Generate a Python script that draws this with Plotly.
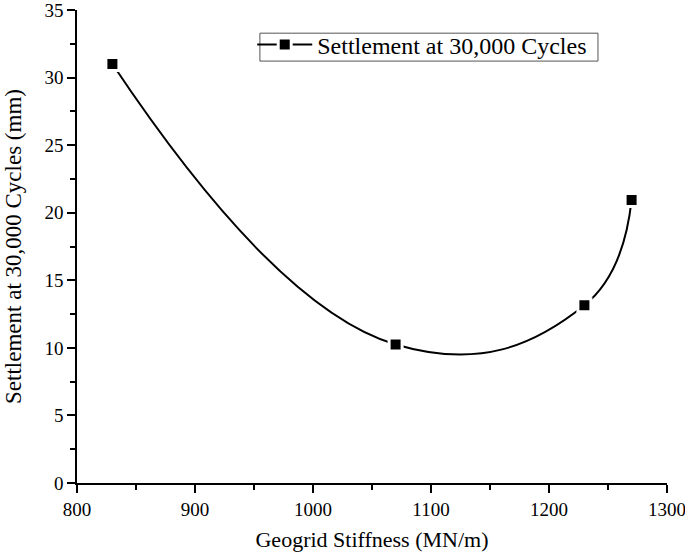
import plotly.graph_objects as go

stiffness = [830, 1070, 1230, 1270]
settlement = [31.0, 10.25, 13.15, 20.95]
series_name = "Settlement at 30,000 Cycles"
x_ticks = [800, 900, 1000, 1100, 1200, 1300]
y_ticks = [0, 5, 10, 15, 20, 25, 30, 35]

FONT = "Liberation Serif, Times New Roman, serif"

fig = go.Figure()
fig.add_trace(go.Scatter(
    x=stiffness, y=settlement, name=series_name,
    mode="lines+markers",
    line=dict(color="black", width=2, shape="spline", smoothing=1.3),
    marker=dict(symbol="square", size=13, color="black",
                line=dict(color="white", width=3)),
))

axis_common = dict(
    showgrid=False, zeroline=False, showline=True, linecolor="black", linewidth=1.5,
    ticks="outside", ticklen=8, tickwidth=1.5, tickcolor="black",
    tickfont=dict(family=FONT, size=19, color="black"),
    minor=dict(ticks="outside", ticklen=5, tickwidth=1.5, tickcolor="black"),
    mirror=False, automargin=False, ticklabeloverflow="allow",
)

fig.update_xaxes(range=[800, 1300], tickvals=x_ticks,
                 title=dict(text="Geogrid Stiffness (MN/m)", font=dict(family=FONT, size=22, color="black"), standoff=13),
                 **axis_common)
fig.update_xaxes(minor=dict(dtick=50, tick0=800))
fig.update_yaxes(range=[0, 35], tickvals=y_ticks,
                 title=dict(text="Settlement at 30,000 Cycles (mm)", font=dict(family=FONT, size=23, color="black"), standoff=16),
                 **axis_common)
fig.update_yaxes(minor=dict(dtick=2.5, tick0=0))

# legend frame (thin grey box as in the reference)
fig.add_shape(type="rect", xref="paper", yref="paper",
              x0=0.310, x1=0.883, y0=0.892, y1=0.951,
              line=dict(color="#555", width=1), fillcolor="white", layer="below")

fig.update_layout(
    width=685, height=554,
    margin=dict(l=77, r=18, t=10, b=71),
    paper_bgcolor="white", plot_bgcolor="white",
    showlegend=True,
    legend=dict(x=0.297, y=0.974, xanchor="left", yanchor="top",
                borderwidth=0, bgcolor="rgba(0,0,0,0)",
                font=dict(family=FONT, size=24, color="black"),
                itemwidth=55, tracegroupgap=0),
)

fig.write_html("out.html", config={"displayModeBar": False},
               post_script="document.body.style.margin='0';document.body.style.overflow='hidden';")
